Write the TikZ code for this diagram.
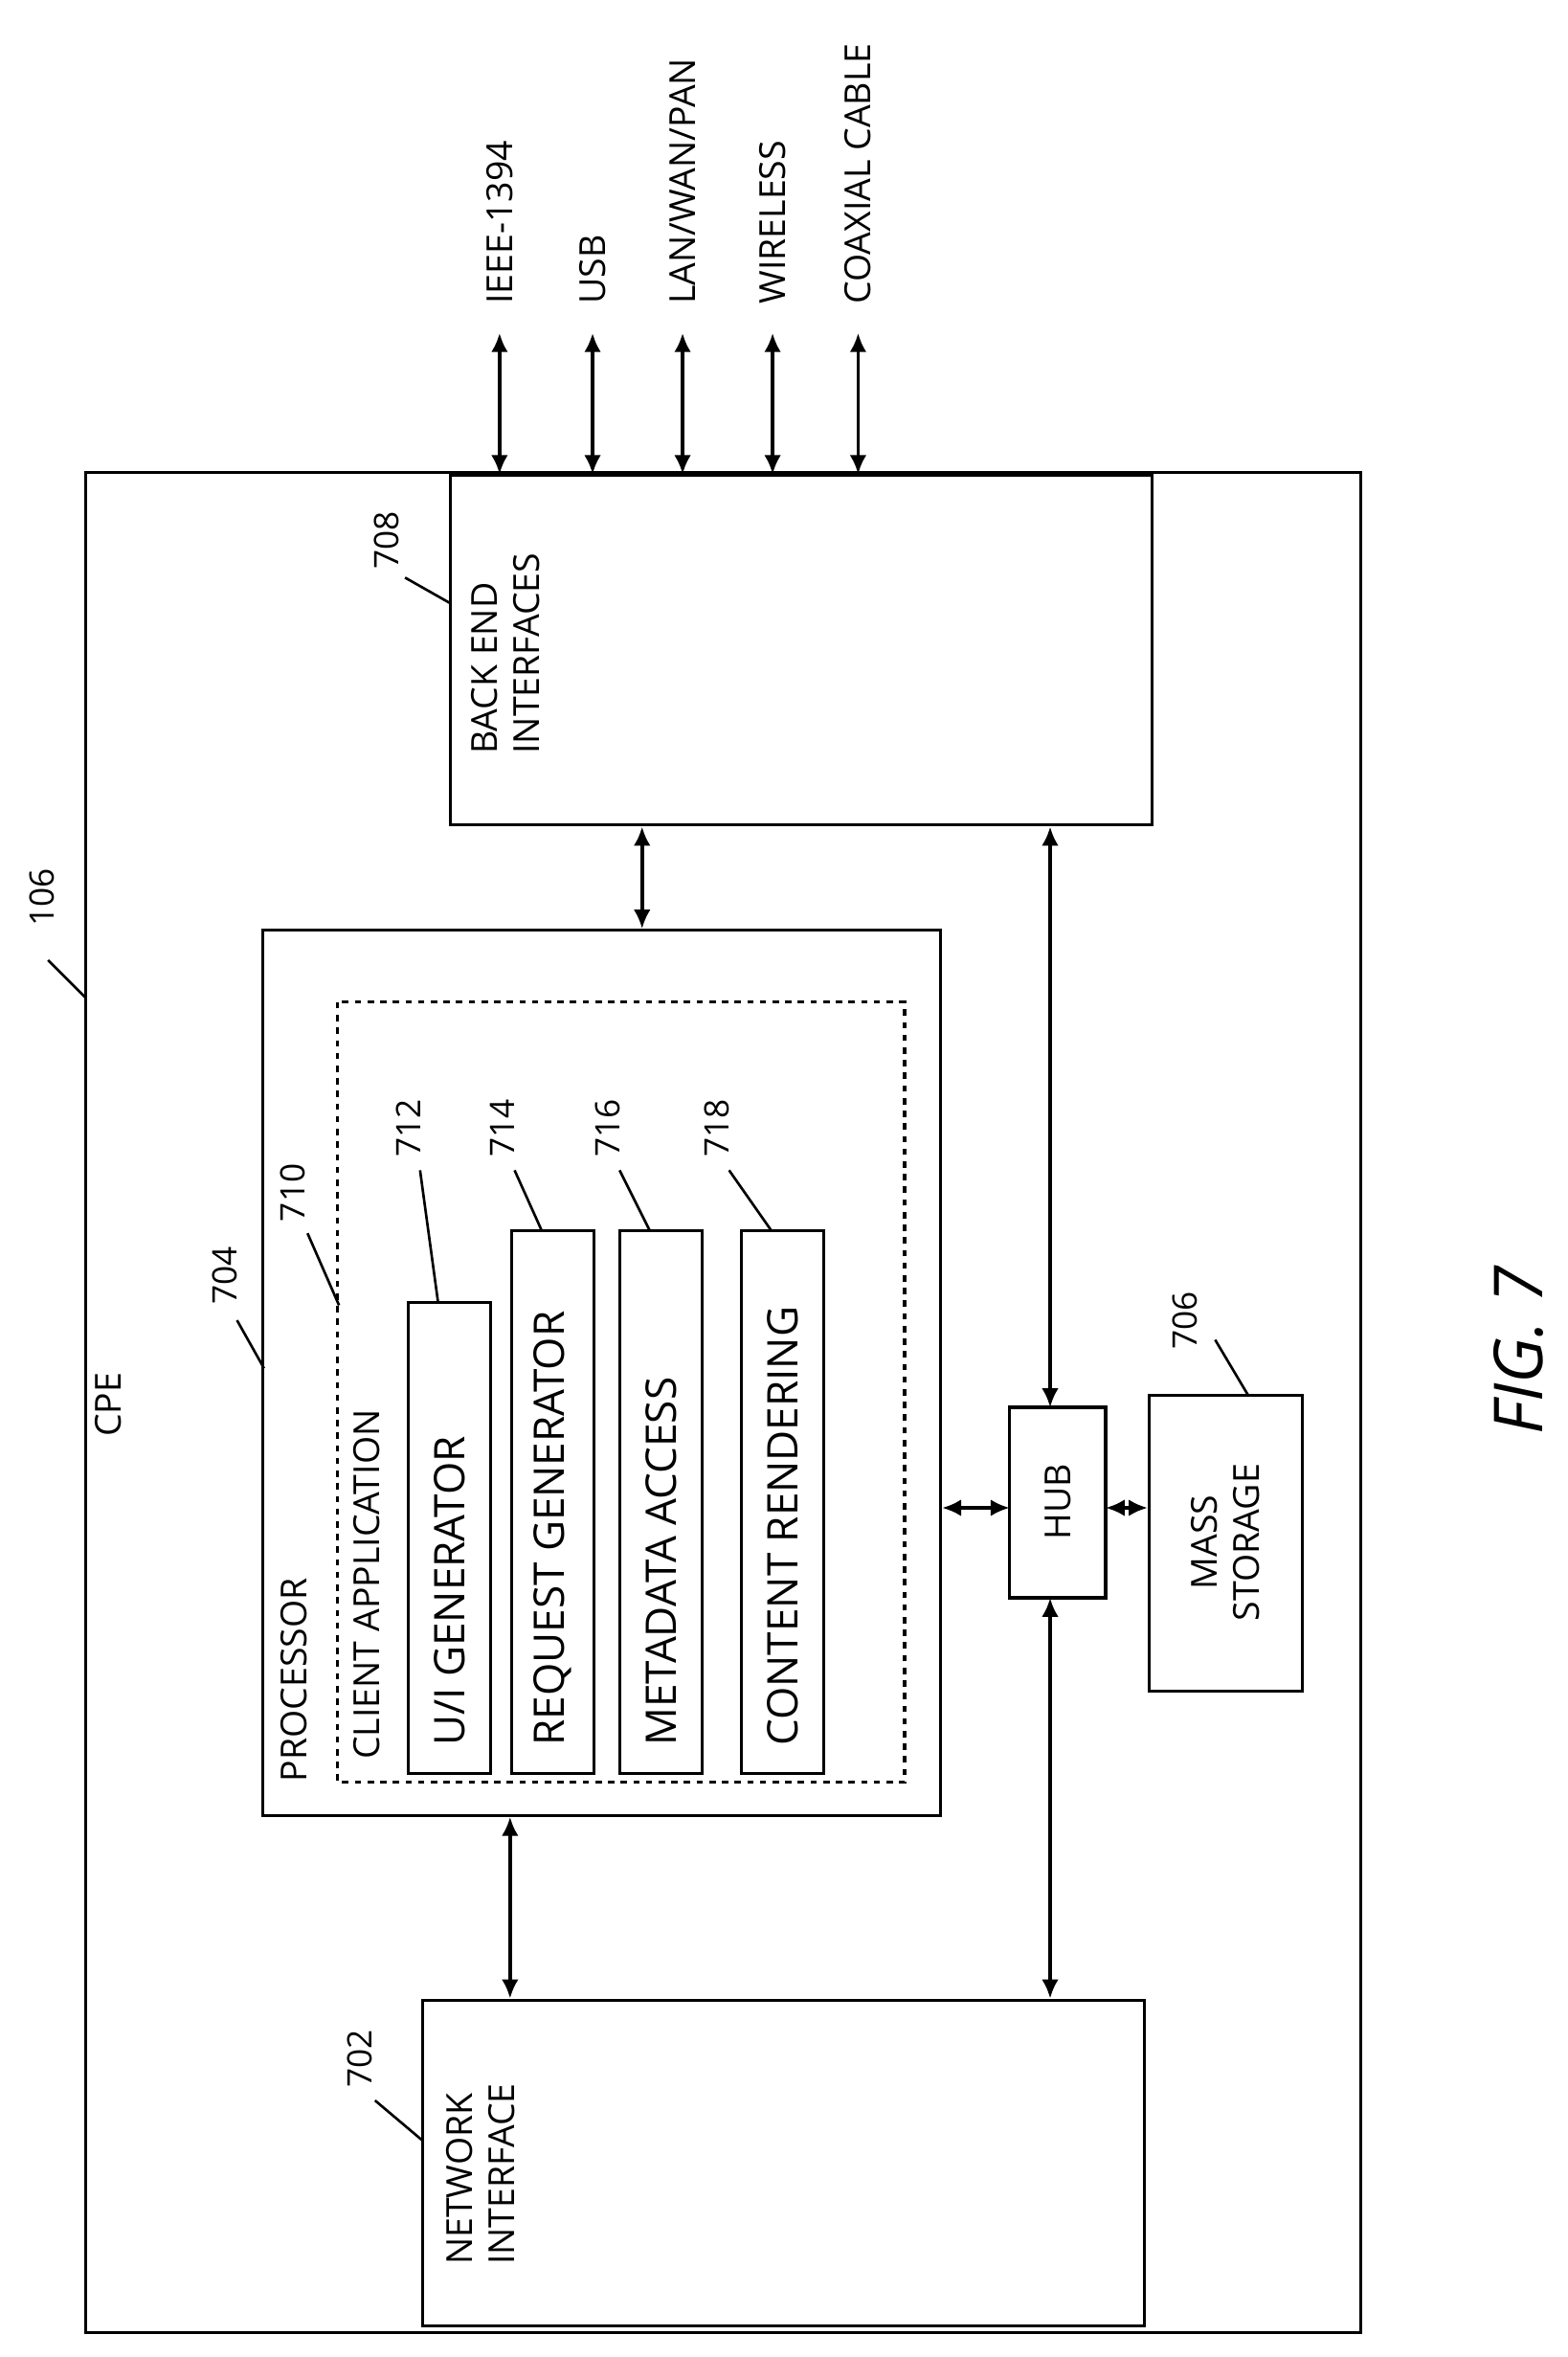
\documentclass[tikz,border=0pt]{standalone}
\usepackage{fontspec}
\setmainfont{Open Sans}
\usetikzlibrary{positioning,arrows.meta}

\begin{document}
\begin{tikzpicture}[
    x=0.025cm, y=-0.025cm,
    >={Latex[length=9pt,width=8pt]},
    line width=1.4pt,
    every edge/.style={<->, draw, line width=1.6pt},
    txt/.style={rotate=90, font=\fontsize{17}{20}\selectfont, align=left, inner sep=1pt},
    big/.style={rotate=90, font=\fontsize{20}{23}\selectfont, inner sep=1pt},
    ref/.style={font=\fontsize{16}{18}\selectfont, inner sep=1pt},
    lead/.style={draw, line width=1.2pt}]

    \useasboundingbox (0,0) rectangle (1045,1571);

    % outer CPE frame
    \draw (57,315) rectangle (907,1555);
    \node[txt, anchor=west] (cpe) at (72,960) {CPE};
    \node[ref, rotate=90] (n106) at (28,598) {106};
    \draw[lead] (32,640) -- (57,665);

    % back end interfaces
    \draw (300,317) rectangle (768,550);
    \node[txt, anchor=north west] (belbl) at (312,505) {BACK END\\INTERFACES};
    \node[ref, rotate=90] (n708) at (258,360) {708};
    \draw[lead] (270,385) -- (300,402);

    \foreach \x/\t in {333/IEEE-1394, 395/USB, 455/{LAN/WAN/PAN}, 515/WIRELESS, 572/COAXIAL CABLE} {
        \coordinate (b\x) at (\x,316);
        \coordinate (t\x) at (\x,222);
        \draw (b\x) edge (t\x);
        \node[txt, anchor=west] at (\x,205) {\t};
    }

    % processor
    \draw (175,620) rectangle (627,1210);
    \node[txt, anchor=north west] (proc) at (185,1190) {PROCESSOR};
    \node[ref, rotate=90] (n704) at (150,850) {704};
    \draw[lead] (158,880) -- (176,912);

    \draw[dashed] (225,668) rectangle (603,1188);
    \node[txt, anchor=north west] (client) at (233,1175) {CLIENT APPLICATION};
    \node[ref, rotate=90] (n710) at (195,795) {710};
    \draw[lead] (205,822) -- (226,870);

    \foreach \a/\top/\t/\r/\rx in {
        272/868/{U/I GENERATOR}/712/272,
        341/820/{REQUEST GENERATOR}/714/335,
        413/820/{METADATA ACCESS}/716/405,
        494/820/{CONTENT RENDERING}/718/478} {
        \draw (\a,\top) rectangle (\a+55,1182);
        \node[big, anchor=west] at (\a+27.5,1166) {\t};
        \node[ref, rotate=90] at (\rx,752) {\r};
        \draw[lead] (\rx+8,780) -- (\a+20,\top);
    }

    % hub and mass storage
    \draw (673,938) rectangle (737,1065);
    \node[txt] (hub) at (705,1001) {HUB};
    \draw (766,930) rectangle (868,1127);
    \node[txt, align=center] (mass) at (817,1028) {MASS\\STORAGE};
    \node[ref, rotate=90] (n706) at (790,880) {706};
    \draw[lead] (810,893) -- (832,930);

    % network interface
    \draw (282,1333) rectangle (763,1550);
    \node[txt, anchor=north west] (net) at (295,1512) {NETWORK\\INTERFACE};
    \node[ref, rotate=90] (n702) at (240,1372) {702};
    \draw[lead] (250,1400) -- (282,1427);

    % connectors
    \draw (428,551) edge (428,619);
    \draw (700,938) edge (700,551);
    \draw (700,1065) edge (700,1332);
    \draw (673,1005) edge (628,1005);
    \draw (737,1005) edge (765,1005);
    \draw (340,1211) edge (340,1332);

    \node[rotate=90, font=\itshape\fontsize{32}{36}\selectfont] (fig) at (1012,900) {FIG. 7};
\end{tikzpicture}
\end{document}
